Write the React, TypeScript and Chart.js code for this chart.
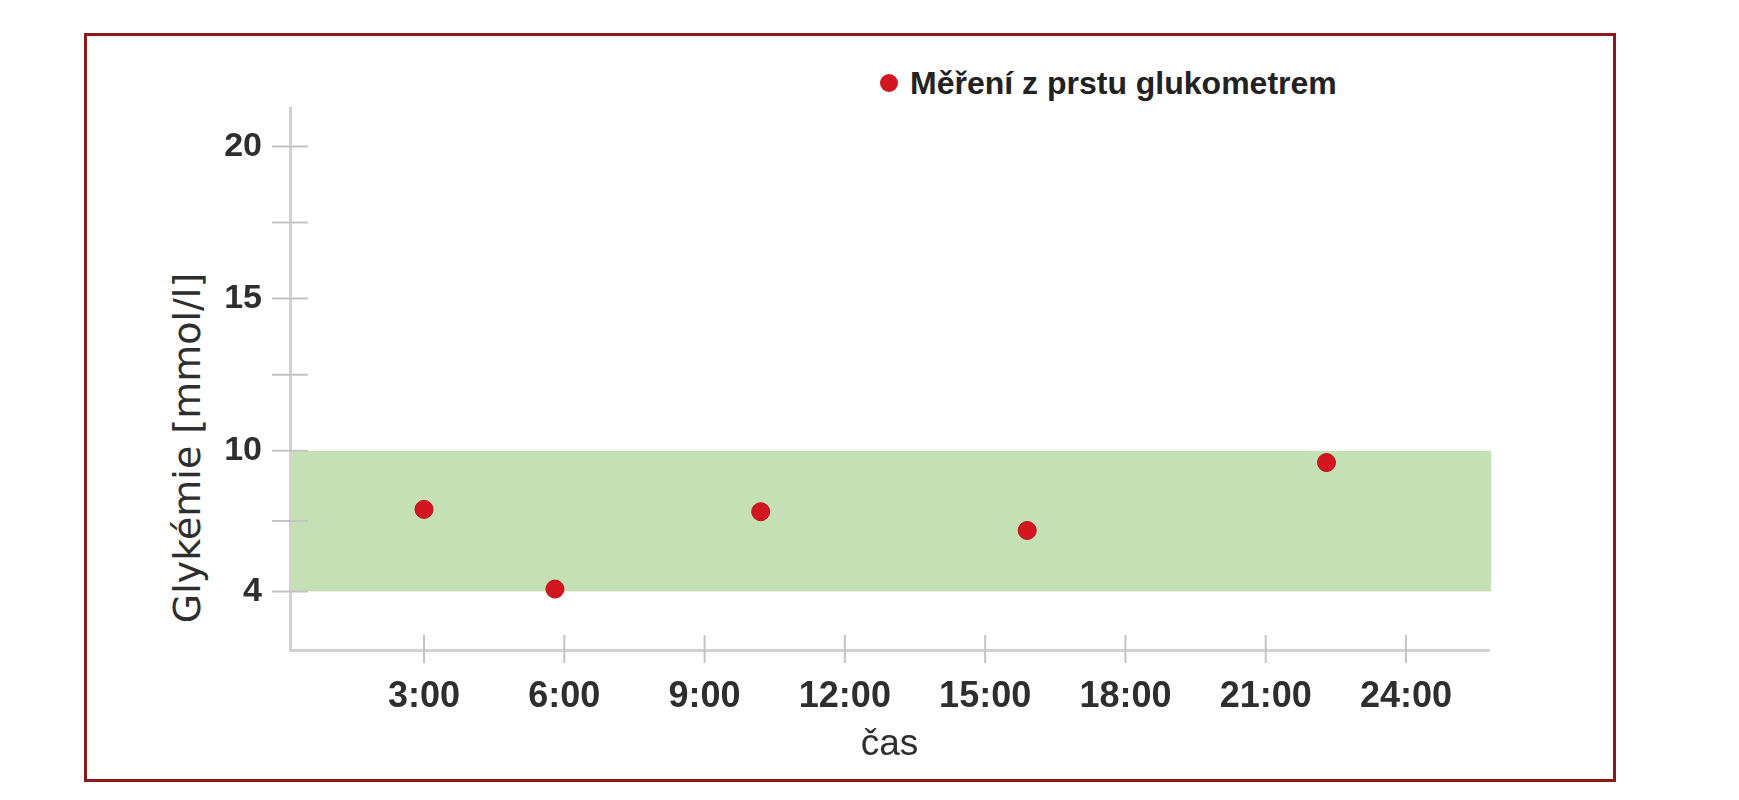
import { useEffect, useRef } from "react";
import { Chart, registerables, LinearScale } from "chart.js";

// measurement times (hours) and finger-prick glucose values
const HOURS = [3.0, 5.8, 10.2, 15.9, 22.3];
const GLYCEMIA = [7.5, 4.1, 7.4, 6.6, 9.5];

const X_TICKS = [3, 6, 9, 12, 15, 18, 21, 24];
const Y_TICKS = [4, 7, 10, 12.5, 15, 17.5, 20];
const Y_LABELED = [4, 10, 15, 20];

const TARGET_LOW = 4;
const TARGET_HIGH = 10;

const LEGEND_LABEL = "Měření z prstu glukometrem";
const X_TITLE = "čas";
const Y_TITLE = "Glykémie [mmol/l]";

// the original axis is drawn tighter below 10 mmol/l
const Y_BREAK = 10;
const LOW_SCALE = 0.77;

const POINT_COLOR = "#d3161f";
const BAND_COLOR = "#c5e0b4";
const AXIS_COLOR = "#d2d2d2";
const TICK_COLOR = "#c4c4c4";
const TEXT_COLOR = "#2e2e2e";

const squeeze = (v: number) =>
  v >= Y_BREAK ? v : Y_BREAK - (Y_BREAK - v) * LOW_SCALE;
const unsqueeze = (u: number) =>
  u >= Y_BREAK ? u : Y_BREAK - (Y_BREAK - u) / LOW_SCALE;

class GlycemiaScale extends LinearScale {
  static id = "glycemia";
  static defaults = LinearScale.defaults;

  determineDataLimits() {
    super.determineDataLimits();
    this.min = squeeze(this.min);
    this.max = squeeze(this.max);
  }

  buildTicks() {
    return Y_TICKS.map((value) => ({ value }));
  }

  getPixelForValue(value: number) {
    return super.getPixelForValue(squeeze(value));
  }

  getValueForPixel(pixel: number) {
    return unsqueeze(super.getValueForPixel(pixel));
  }
}

Chart.register(...registerables, GlycemiaScale);

// target band + tick marks that cross the axis lines
const bandAndTicks = {
  id: "bandAndTicks",
  beforeDatasetsDraw(chart: Chart) {
    const { ctx, chartArea } = chart;
    const x = chart.scales.x;
    const y = chart.scales.y;
    const top = y.getPixelForValue(TARGET_HIGH);
    const bottom = y.getPixelForValue(TARGET_LOW);

    ctx.save();
    ctx.fillStyle = BAND_COLOR;
    ctx.fillRect(chartArea.left + 2, top, chartArea.right - chartArea.left, bottom - top);

    ctx.strokeStyle = TICK_COLOR;
    ctx.lineWidth = 2;
    ctx.beginPath();
    y.ticks.forEach((_, i) => {
      const py = y.getPixelForTick(i);
      ctx.moveTo(chartArea.left - 18, py);
      ctx.lineTo(chartArea.left + 18, py);
    });
    x.ticks.forEach((_, i) => {
      const px = x.getPixelForTick(i);
      ctx.moveTo(px, chartArea.bottom - 15);
      ctx.lineTo(px, chartArea.bottom + 13);
    });
    ctx.stroke();
    ctx.restore();
  },
};

function GlycemiaChart() {
  const canvasRef = useRef<HTMLCanvasElement | null>(null);

  useEffect(() => {
    if (!canvasRef.current) return;

    const chart = new Chart(canvasRef.current, {
      type: "scatter",
      data: {
        datasets: [
          {
            label: LEGEND_LABEL,
            data: HOURS.map((h, i) => ({ x: h, y: GLYCEMIA[i] })),
            pointRadius: 9,
            pointHoverRadius: 9,
            backgroundColor: POINT_COLOR,
            borderColor: "#b8101a",
            borderWidth: 1,
          },
        ],
      },
      options: {
        animation: false,
        responsive: true,
        maintainAspectRatio: false,
        layout: { padding: { top: 12, right: 31, left: 0, bottom: 0 } },
        plugins: {
          legend: { display: false },
          tooltip: { enabled: false },
        },
        scales: {
          x: {
            type: "linear",
            min: 0.134,
            max: 25.775,
            afterBuildTicks: (scale) => {
              scale.ticks = X_TICKS.map((value) => ({ value }));
            },
            afterFit: (scale) => {
              scale.height = 125;
            },
            grid: { drawOnChartArea: false, drawTicks: false },
            border: { color: AXIS_COLOR, width: 3 },
            ticks: {
              autoSkip: false,
              maxRotation: 0,
              padding: 25,
              color: TEXT_COLOR,
              font: { family: "'Liberation Sans', Arial, sans-serif", size: 36, weight: "bold" },
              callback: (value) => `${value}:00`,
            },
            title: {
              display: true,
              text: X_TITLE,
              color: TEXT_COLOR,
              padding: { top: 0, bottom: 8 },
              font: { family: "'Liberation Sans', Arial, sans-serif", size: 37 },
            },
          },
          y: {
            type: "glycemia",
            min: 1.5,
            max: 21.25,
            afterFit: (scale) => {
              scale.width = 170;
            },
            grid: { drawOnChartArea: false, drawTicks: false },
            border: { color: AXIS_COLOR, width: 3 },
            ticks: {
              autoSkip: false,
              padding: 28,
              color: TEXT_COLOR,
              font: { family: "'Liberation Sans', Arial, sans-serif", size: 34, weight: "bold" },
              callback: (value) => (Y_LABELED.includes(Number(value)) ? String(value) : ""),
            },
          },
        },
      },
      plugins: [bandAndTicks],
    });

    return () => {
      chart.destroy();
    };
  }, []);

  return (
    <div style={{ position: "absolute", left: 112, top: 52, width: 1400, height: 715 }}>
      <canvas ref={canvasRef} />
    </div>
  );
}

export default function App() {
  return (
    <div style={{ position: "relative", width: 1723, height: 784, background: "#fff" }}>
      <div
        style={{
          position: "absolute",
          left: 76,
          top: 25,
          width: 1526,
          height: 743,
          border: "3px solid #8b1a1a",
        }}
      />
      <div
        style={{
          position: "absolute",
          left: 881,
          top: 75,
          width: 18,
          height: 18,
          marginTop: -9,
          marginLeft: -9,
          borderRadius: "50%",
          background: POINT_COLOR,
        }}
      />
      <div
        style={{
          position: "absolute",
          left: 902,
          top: 75,
          transform: "translateY(-50%)",
          fontFamily: "'Liberation Sans', Arial, sans-serif",
          fontWeight: "bold",
          fontSize: 32,
          color: "#222",
          whiteSpace: "nowrap",
          lineHeight: 1,
        }}
      >
        {LEGEND_LABEL}
      </div>
      <div
        style={{
          position: "absolute",
          left: 179,
          top: 440,
          transform: "translate(-50%, -50%) rotate(-90deg)",
          fontFamily: "'DejaVu Sans', sans-serif",
          fontSize: 38,
          color: TEXT_COLOR,
          whiteSpace: "nowrap",
          lineHeight: 1,
        }}
      >
        {Y_TITLE}
      </div>
      <GlycemiaChart />
    </div>
  );
}
